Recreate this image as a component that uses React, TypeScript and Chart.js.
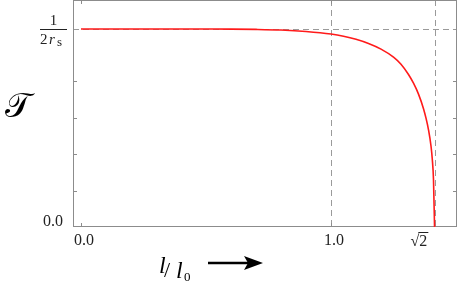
import React, { useEffect, useRef } from "react";
import { Chart, registerables } from "chart.js";
Chart.register(...registerables);

// data (l / l0 versus T in units where 1/(2 r_s) = T_MAX)
const L_RATIO = [0, 0.2, 0.4, 0.5, 0.6, 0.7, 0.8, 0.9, 1.0, 1.05, 1.1, 1.15, 1.2, 1.25, 1.28, 1.31, 1.33, 1.35, 1.37, 1.38, 1.39, 1.4, 1.405, 1.41, 1.4142];
const T_VALUES = [1.088, 1.088, 1.088, 1.0875, 1.087, 1.0855, 1.082, 1.074, 1.060, 1.048, 1.031, 1.008, 0.977, 0.933, 0.894, 0.838, 0.790, 0.730, 0.650, 0.598, 0.534, 0.445, 0.375, 0.26, 0];
const T_MAX = 1.088;
const X_RANGE = [-0.032, 1.504];
const Y_RANGE = [0, 1.247];
const Y_MINOR_TICKS = [0.2, 0.4, 0.6, 0.8];
const X_TICKS = [0, 1, Math.SQRT2];
const X_TICK_LABELS = ["0.0", "1.0", "√2"];
const DASHED_X = [1, Math.SQRT2];

const GRAY = "#8c8c8c";
const SERIF = '"Liberation Serif", "DejaVu Serif", serif';

const decorPlugin = {
  id: "decor",
  beforeDatasetsDraw(chart: any) {
    const { ctx, chartArea: a, scales } = chart;
    const xs = scales.x, ys = scales.y;
    ctx.save();
    // dashed guides
    ctx.strokeStyle = "#9a9a9a";
    ctx.lineWidth = 1;
    ctx.setLineDash([6, 4]);
    for (const v of DASHED_X) {
      const px = Math.round(xs.getPixelForValue(v)) + 0.5;
      ctx.beginPath();
      ctx.moveTo(px, a.top);
      ctx.lineTo(px, a.bottom);
      ctx.stroke();
    }
    const py = Math.round(ys.getPixelForValue(T_MAX)) + 0.5;
    ctx.beginPath();
    ctx.moveTo(a.left, py);
    ctx.lineTo(a.right, py);
    ctx.stroke();
    ctx.setLineDash([]);
    // frame
    ctx.strokeStyle = GRAY;
    ctx.strokeRect(Math.round(a.left) + 0.5, Math.round(a.top) + 0.5, Math.round(a.right - a.left) - 1, Math.round(a.bottom - a.top) - 1);
    // ticks
    const tl = 4;
    for (const v of Y_MINOR_TICKS) {
      const p = Math.round(ys.getPixelForValue(v)) + 0.5;
      ctx.beginPath();
      ctx.moveTo(a.left, p); ctx.lineTo(a.left + tl, p);
      ctx.moveTo(a.right, p); ctx.lineTo(a.right - tl, p);
      ctx.stroke();
    }
    for (const v of X_TICKS.slice(0, 2)) {
      const p = Math.round(xs.getPixelForValue(v)) + 0.5;
      ctx.beginPath();
      ctx.moveTo(p, a.bottom); ctx.lineTo(p, a.bottom - tl);
      ctx.moveTo(p, a.top); ctx.lineTo(p, a.top + tl);
      ctx.stroke();
    }
    ctx.restore();
  },
  afterDraw(chart: any) {
    const { ctx, chartArea: a, scales } = chart;
    const xs = scales.x, ys = scales.y;
    ctx.save();
    ctx.fillStyle = "#222";
    ctx.font = `16px ${SERIF}`;
    // y labels
    ctx.textAlign = "right";
    ctx.textBaseline = "middle";
    ctx.fillText("0.0", a.left - 10, ys.getPixelForValue(0) - 5);
    // fraction 1/(2 r_s)
    const fy = ys.getPixelForValue(T_MAX);
    const fx0 = 40, fx1 = 67;
    ctx.fillStyle = "#222";
    ctx.fillRect(fx0, Math.round(fy), fx1 - fx0, 1);
    ctx.textAlign = "center";
    ctx.textBaseline = "alphabetic";
    ctx.font = `15px ${SERIF}`;
    ctx.fillText("1", (fx0 + fx1) / 2, fy - 4);
    ctx.textAlign = "left";
    ctx.fillText("2", 40, fy + 15);
    ctx.font = `italic 15px ${SERIF}`;
    ctx.fillText("r", 49, fy + 15);
    ctx.font = `13px ${SERIF}`;
    ctx.fillText("s", 57, fy + 17);
    // x labels
    ctx.font = `16px ${SERIF}`;
    ctx.textBaseline = "middle";
    ctx.textAlign = "center";
    X_TICKS.forEach((v, i) => {
      const px = xs.getPixelForValue(v);
      const lab = X_TICK_LABELS[i];
      if (lab === "√2") {
        ctx.textAlign = "left";
        const sw = ctx.measureText("√").width;
        const tw = ctx.measureText("2").width;
        const x0 = px - 24;
        ctx.fillText("√", x0, a.bottom + 15);
        ctx.fillText("2", x0 + sw, a.bottom + 15);
        ctx.fillRect(x0 + sw - 1, a.bottom + 5, tw + 2, 1);
        ctx.textAlign = "center";
      } else {
        ctx.fillText(lab, px + 3, a.bottom + 14);
      }
    });
    // y axis title
    ctx.textAlign = "center";
    ctx.textBaseline = "middle";
    ctx.font = `34px "DejaVu Serif", "DejaVu Sans", serif`;
    ctx.fillStyle = "#000";
    ctx.fillText("𝒯", 18, 108);
    // x axis title l/l0 ->
    ctx.textAlign = "left";
    ctx.textBaseline = "alphabetic";
    ctx.font = `italic 24px ${SERIF}`;
    ctx.fillText("l", 159, 273);
    ctx.font = `22px ${SERIF}`;
    ctx.fillText("/", 164, 277);
    ctx.font = `italic 24px ${SERIF}`;
    ctx.fillText("l", 176, 278);
    ctx.font = `13px ${SERIF}`;
    ctx.fillText("0", 184, 281);
    // arrow
    ctx.strokeStyle = "#000";
    ctx.lineWidth = 2.5;
    ctx.beginPath();
    ctx.moveTo(208, 263);
    ctx.lineTo(250, 263);
    ctx.stroke();
    ctx.beginPath();
    ctx.moveTo(263, 263);
    ctx.lineTo(244, 256);
    ctx.lineTo(248, 263);
    ctx.lineTo(244, 270);
    ctx.closePath();
    ctx.fillStyle = "#000";
    ctx.fill();
    ctx.restore();
  },
};

export default function App() {
  const ref = useRef<HTMLCanvasElement>(null);
  useEffect(() => {
    const data = L_RATIO.map((x, i) => ({ x, y: T_VALUES[i] }));
    const chart = new Chart(ref.current as HTMLCanvasElement, {
      type: "line",
      data: {
        datasets: [
          {
            data,
            borderColor: "#ff1a1a",
            borderWidth: 1.6,
            pointRadius: 0,
            fill: false,
            cubicInterpolationMode: "monotone",
          },
        ],
      },
      options: {
        responsive: false,
        animation: false,
        events: [],
        layout: { padding: { top: 0, right: 1, left: 0, bottom: 0 } },
        plugins: { legend: { display: false }, tooltip: { enabled: false } },
        scales: {
          x: {
            type: "linear",
            min: X_RANGE[0],
            max: X_RANGE[1],
            grid: { display: false },
            border: { display: false },
            ticks: { display: false },
            afterFit: (s: any) => { s.height = 56; },
          },
          y: {
            type: "linear",
            min: Y_RANGE[0],
            max: Y_RANGE[1],
            grid: { display: false },
            border: { display: false },
            ticks: { display: false },
            afterFit: (s: any) => { s.width = 73; },
          },
        },
      },
      plugins: [decorPlugin],
    } as any);
    return () => chart.destroy();
  }, []);
  return (
    <div style={{ position: "absolute", left: 0, top: 0, width: 458, height: 283, background: "#fff" }}>
      <canvas ref={ref} width={458} height={283} style={{ display: "block" }} />
    </div>
  );
}
